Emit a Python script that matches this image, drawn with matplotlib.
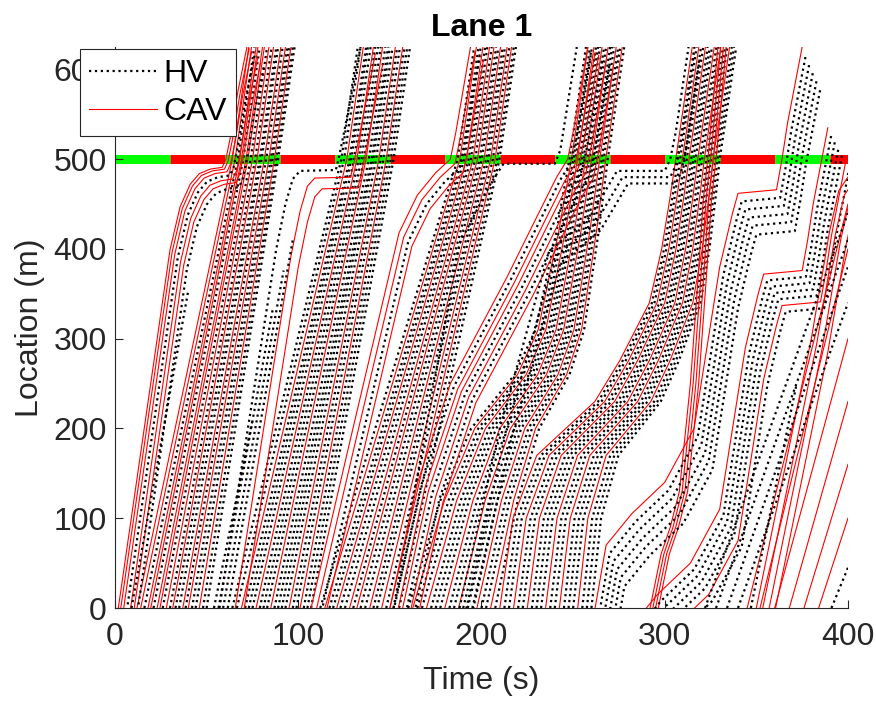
import numpy as np
import matplotlib.pyplot as plt

plt.rcParams['font.family'] = ['Liberation Sans', 'DejaVu Sans']

# signal at the stop line (500 m)
sig_start = [0, 30, 60, 90, 120, 150, 180, 210, 240, 270, 300, 330, 360, 390]
sig_end = [30, 60, 90, 120, 150, 180, 210, 240, 270, 300, 330, 360, 390, 400]
sig_state = 'GRGRGRGRGRGRGR'
stop_line = 500
y_top = 625

# platoons: entry time at 0 m, time at the stop line, kind (B = HV, R = CAV)
p1_entry = [12, 14, 16, 18, 19.5, 21, 23, 24.5, 26, 28, 30, 31.5, 33, 35, 37, 38.5, 40, 42, 44, 46, 48, 50]
p1_cross = [64, 65.5, 67, 68, 69, 70, 71.5, 72.5, 74, 75, 76.5, 77.5, 79, 80, 81.5, 82.5, 84, 85, 86, 87, 88, 89]
p1_kind = 'RRBRRBRRBRBRBBRBRBBRBB'

p2_entry = [64, 66.5, 69, 71, 73, 75, 77, 79, 81, 83, 85, 87, 89, 91, 93, 95, 97, 99, 101, 103, 105, 107]
p2_cross = [123.5, 125, 126.5, 128, 129, 130.5, 132, 133, 134.5, 136, 137, 138.5, 140, 141, 142.5, 144,
            145, 146.5, 148, 149, 150.5, 152]
p2_kind = 'BBRBBBRBBBRBBBBRBBRBBB'

p3_entry = [112, 114.5, 117, 119, 121, 123, 125.5, 128, 130, 132, 134, 136.5, 139, 141, 143, 145.5, 148,
            150, 152, 155]
p3_cross = [187, 188.2, 189.4, 190.6, 191.8, 193, 194.2, 195.4, 196.6, 197.8, 199, 200.2, 201.4, 202.6,
            203.8, 205, 206.2, 207.4, 208.6, 209.8]
p3_kind = 'BRBBRBBRBRBBRBBRBRBB'

p4_entry = [160, 162.5, 165, 167.5, 170, 172.5, 175, 177.5, 180, 182.5, 185, 187.5, 190, 192.5, 195,
            197.5, 200, 202.5, 205, 207.5]
p4_cross = [248, 249.1, 250.2, 251.3, 252.4, 253.5, 254.6, 255.7, 256.8, 257.9, 259, 260.1, 261.2, 262.3,
            263.4, 264.5, 265.6, 266.7, 267.8, 268.9]
p4_kind = 'BRBBRBBBRBBRBBBRBBRB'

p5_entry = [210, 212.5, 215, 217.5, 220, 222.5, 225, 227.5, 230, 232.5, 235, 237.5, 240, 242.5, 245,
            247.5, 250, 252.5, 255, 257.5, 260]
p5_cross = [306, 307.2, 308.4, 309.6, 310.8, 312, 313.2, 314.4, 315.6, 316.8, 318, 319.2, 320.4, 321.6,
            322.8, 324, 325.2, 326.4, 327.6, 328.8, 330]
p5_kind = 'RBBRBBRBBBRBBRBBBRBBB'

# shape of the approach: location vs share of the travel time to the stop line
straight_y = [0, 500]
straight_f = [0, 1]
bend4_y = [0, 120, 200, 260, 310, 420, 470, 500]
bend4_f = [0, 0.2, 0.39, 0.66, 0.79, 0.92, 0.97, 1]
bend5_y = [0, 100, 170, 230, 275, 340, 400, 460, 500]
bend5_f = [0, 0.075, 0.21, 0.54, 0.68, 0.85, 0.92, 0.97, 1]

platoons = [
    (p1_entry, p1_cross, p1_kind, straight_y, straight_f),
    (p2_entry, p2_cross, p2_kind, straight_y, straight_f),
    (p3_entry, p3_cross, p3_kind, straight_y, straight_f),
    (p4_entry, p4_cross, p4_kind, bend4_y, bend4_f),
    (p5_entry, p5_cross, p5_kind, bend5_y, bend5_f),
]
climb = 9  # s from the stop line to the top of the plot

# groups that brake or queue: lead vehicle (time, location) + shifts of followers
q1_t = [1.8, 30, 35.5, 41, 46, 52, 58.5, 60.5, 63, 67, 72]
q1_y = [0, 399, 447, 472, 484, 489, 491, 500, 525, 575, 625]
q1_dt = [0, 1.2, 2.6, 4.2, 5.8, 7.5, 9.2]
q1_dy = [0, -2, -5, -9, -13, -17, -22]
q1_kind = 'RRRBRRB'

q2_t = [57, 88, 93, 97, 101, 120.5, 122, 125, 134]
q2_y = [0, 400, 450, 478, 487, 488, 500, 530, 625]
q2_dt = [0, 8, 12]
q2_dy = [0, -8, -20]
q2_kind = 'BRR'

q3_t = [107, 128, 155, 165, 175, 183, 186, 194]
q3_y = [0, 184, 418, 460, 485, 500, 530, 625]
q3_dt = [0, 2.5, 5, 7]
q3_dy = [0, -5, -10, -15]
q3_kind = 'RRBR'

h3_t = [152, 188, 205, 212, 240, 243, 252]
h3_y = [0, 406, 473, 495, 495, 510, 625]

q4_t = [150, 165, 183, 214, 230, 241, 247, 250, 258]
q4_y = [0, 139, 250, 369, 435, 480, 500, 530, 625]
q4_dt = [0, 2, 4, 6, 8, 10, 12, 14]
q4_dy = [0, -3, -6, -9, -12, -15, -18, -21]
q4_kind = 'RBRRBRBR'

q5_t = [188, 210, 237, 259, 274, 300, 303, 306, 313]
q5_y = [0, 200, 398, 435, 487, 487, 500, 530, 625]
q5_dt = [0, 3, 6]
q5_dy = [0, -7, -14]
q5_kind = 'BBB'

r5_t = [292, 298, 303, 308, 314, 318, 321, 324, 329]
r5_y = [0, 60, 90, 130, 250, 362, 454, 510, 625]
r5_dt = [0, 1.5, 3, 4.5]
r5_dy = [0, 0, 0, 0]
r5_kind = 'RRRR'

q6_t = [262, 268, 282, 300, 316, 330, 337, 340, 361, 364, 367, 375]
q6_y = [0, 70, 105, 140, 200, 380, 440, 462, 466, 500, 540, 625]
q6_dt = [0, 2, 4, 6, 8, 10, 14, 16, 18, 20, 22, 24, 26]
q6_dy = [0, -9, -18, -27, -36, -46, -90, -97, -104, -111, -118, -125, -132]
q6_kind = 'RBBBBBRBBBBRB'

l7_t = [350, 380, 390, 395, 400]
l7_y = [0, 300, 420, 465, 480]
l7_dt = [0, 3, 6, 9]
l7_dy = [0, -5, -10, -15]
l7_kind = 'RRRR'

groups = [
    (q1_t, q1_y, q1_dt, q1_dy, q1_kind),
    (q2_t, q2_y, q2_dt, q2_dy, q2_kind),
    (q3_t, q3_y, q3_dt, q3_dy, q3_kind),
    (h3_t, h3_y, [0], [0], 'B'),
    (q4_t, q4_y, q4_dt, q4_dy, q4_kind),
    (q5_t, q5_y, q5_dt, q5_dy, q5_kind),
    (r5_t, r5_y, r5_dt, r5_dy, r5_kind),
    (q6_t, q6_y, q6_dt, q6_dy, q6_kind),
    (l7_t, l7_y, l7_dt, l7_dy, l7_kind),
]

# straight pieces (lane changes, late arrivals): start and end points
seg_t0 = [9, 54, 56.5, 59, 61.5, 345, 352, 360, 368, 376, 384, 391, 322, 328, 334, 340, 347]
seg_y0 = [0, 0, 0, 0, 0, 0, 0, 0, 0, 0, 0, 0, 0, 0, 0, 0, 0]
seg_t1 = [40, 75, 86, 92, 97, 400, 400, 400, 400, 400, 400, 400, 400, 400, 400, 400, 372]
seg_y1 = [354, 209, 332, 376, 410, 450, 400, 300, 230, 160, 100, 45, 440, 410, 380, 340, 250]
seg_kind = 'BBBBBRRRRRRBBBBBB'

hv_style = dict(color='black', linestyle=':', linewidth=1.6)
cav_style = dict(color='red', linestyle='-', linewidth=0.8)
ink = '#262626'

fig = plt.figure(figsize=(8.76, 7.02), dpi=100)
ax = fig.add_axes([0.1313, 0.1339, 0.8367, 0.7991])

for s, e, st in zip(sig_start, sig_end, sig_state):
    ax.plot([s, e], [stop_line, stop_line], color=(0, 1, 0) if st == 'G' else (1, 0, 0),
            linewidth=6.5, solid_capstyle='butt', zorder=1)

for entry, cross, kinds, shape_y, shape_f in platoons:
    for e, c, k in zip(entry, cross, kinds):
        style = hv_style if k == 'B' else cav_style
        t = list(e + (c - e) * np.array(shape_f)) + [c + climb]
        y = list(shape_y) + [y_top]
        ax.plot(t, y, zorder=2, **style)

for t, y, dts, dys, kinds in groups:
    t = np.array(t, dtype=float)
    y = np.array(y, dtype=float)
    for dt, dy, k in zip(dts, dys, kinds):
        style = hv_style if k == 'B' else cav_style
        ax.plot(t + dt, y + dy, zorder=2, **style)

for t0, y0, t1, y1, k in zip(seg_t0, seg_y0, seg_t1, seg_y1, seg_kind):
    style = hv_style if k == 'B' else cav_style
    ax.plot([t0, t1], [y0, y1], zorder=2, **style)

ax.set_xlim(0, 400)
ax.set_ylim(0, y_top)
ax.set_xticks([0, 100, 200, 300, 400])
ax.set_yticks([0, 100, 200, 300, 400, 500, 600])
ax.tick_params(direction='in', length=6, labelsize=23, colors=ink)
ax.tick_params(axis='x', pad=10)
ax.tick_params(axis='y', pad=6)
for side in ['top', 'right']:
    ax.spines[side].set_visible(False)
for side in ['left', 'bottom']:
    ax.spines[side].set_color(ink)
ax.set_xlabel('Time (s)', fontsize=23, color=ink, labelpad=10)
ax.set_ylabel('Location (m)', fontsize=23, color=ink, labelpad=6)
ax.set_title('Lane 1', fontsize=23, fontweight='bold', pad=8)

h_hv, = ax.plot([], [], **hv_style)
h_cav, = ax.plot([], [], **cav_style)
leg = ax.legend([h_hv, h_cav], ['HV', 'CAV'], loc='upper left', bbox_to_anchor=(-0.048, 0.996),
                borderaxespad=0, fontsize=23, fancybox=False, framealpha=1,
                edgecolor=ink, handlelength=2.1, handletextpad=0.2, borderpad=0.3,
                labelspacing=0.25)
leg.get_frame().set_linewidth(0.8)
leg.set_zorder(5)

fig.savefig('out.png', dpi=100)
